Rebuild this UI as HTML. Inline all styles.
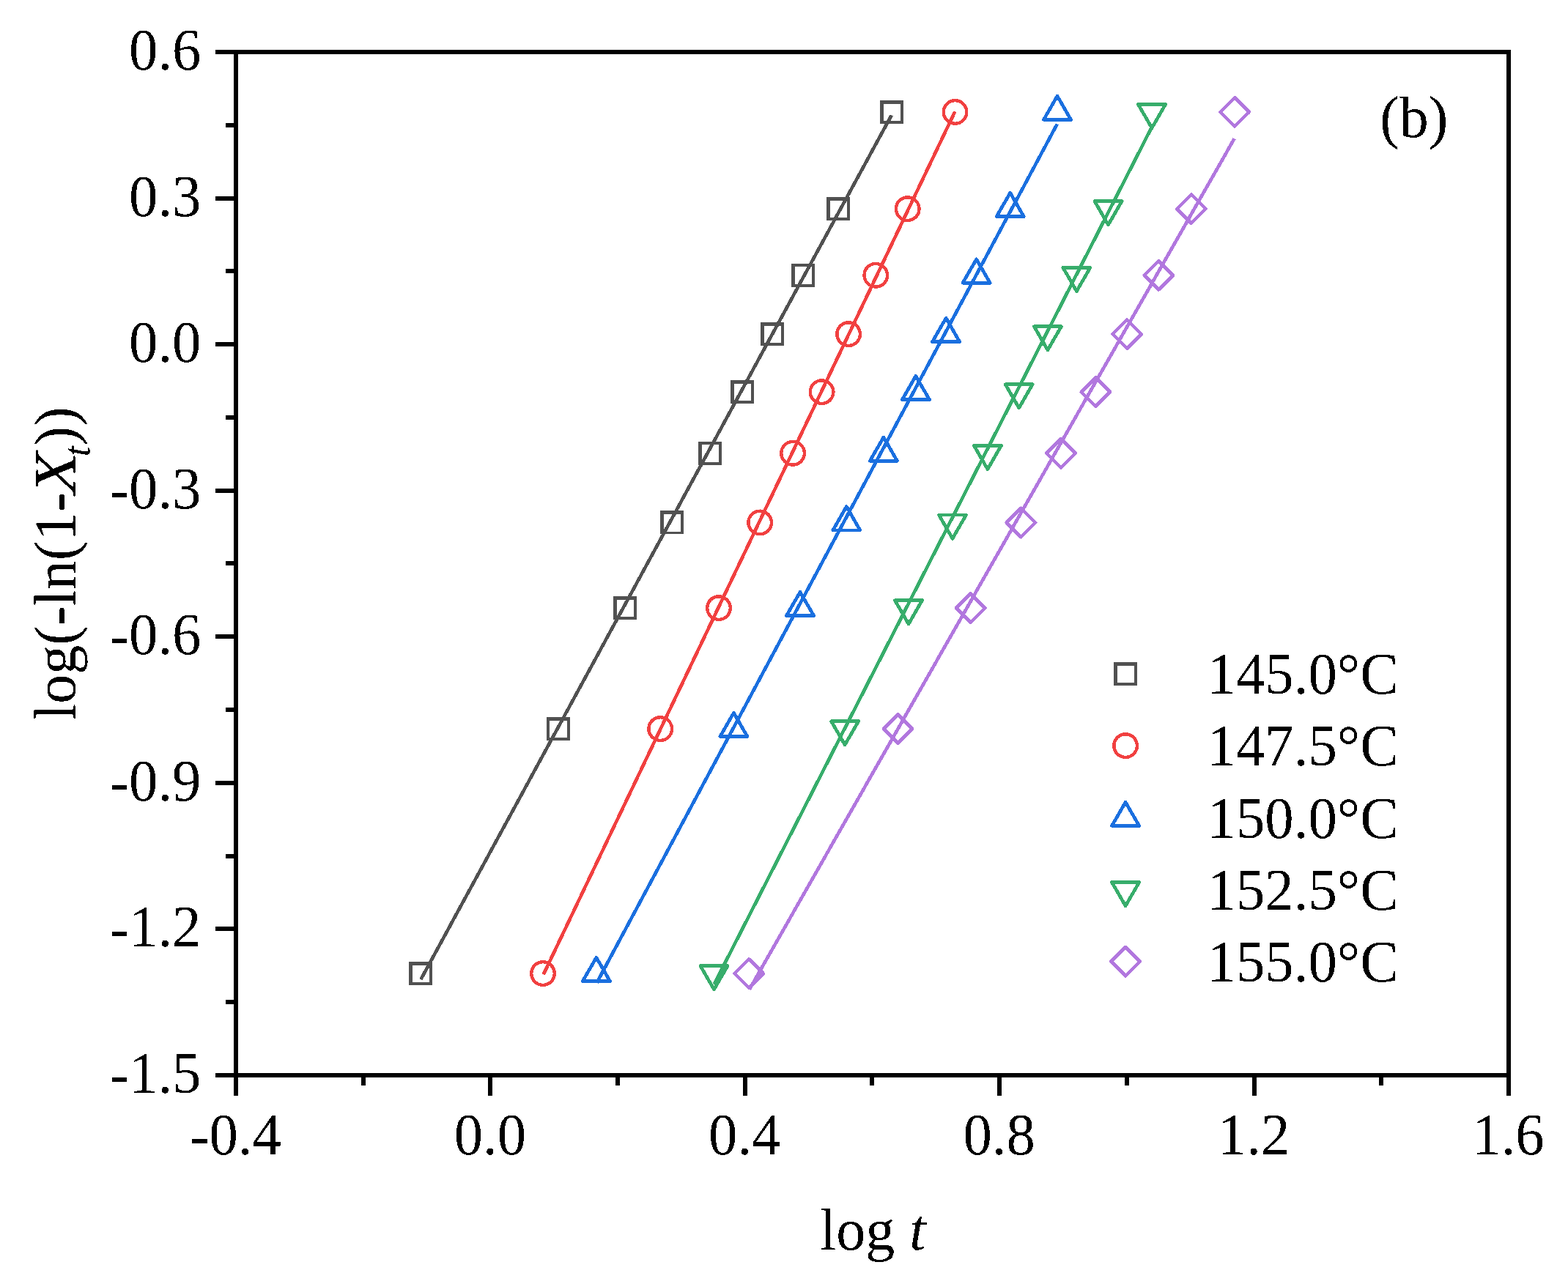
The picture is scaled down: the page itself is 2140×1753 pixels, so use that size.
<!DOCTYPE html>
<html lang="en"><head><meta charset="utf-8"><title>Avrami plot (b)</title>
<style>html,body{margin:0;padding:0;background:#fff;overflow:hidden}body{width:2140px;height:1753px;overflow:hidden}svg{display:block}text{filter:url(#bin);font-family:"Liberation Serif",serif;fill:#000}</style></head><body>
<svg width="2140" height="1753" viewBox="0 0 2140 1753">
<defs><filter id="bin" x="-10%" y="-10%" width="120%" height="120%" color-interpolation-filters="sRGB"><feComponentTransfer><feFuncA type="discrete" tableValues="0 1"/></feComponentTransfer></filter></defs>
<rect width="2140" height="1753" fill="#fff"/>
<g shape-rendering="crispEdges" fill="#000">
<rect x="294" y="68" width="1768" height="6"/>
<rect x="294" y="1465" width="1768" height="6"/>
<rect x="319" y="68" width="6" height="1428"/>
<rect x="2056" y="68" width="6" height="1428"/>
<rect x="294" y="268" width="28" height="6"/>
<rect x="294" y="467" width="28" height="6"/>
<rect x="294" y="667" width="28" height="6"/>
<rect x="294" y="866" width="28" height="6"/>
<rect x="294" y="1066" width="28" height="6"/>
<rect x="294" y="1265" width="28" height="6"/>
<rect x="308" y="168" width="14" height="6"/>
<rect x="308" y="367" width="14" height="6"/>
<rect x="308" y="567" width="14" height="6"/>
<rect x="308" y="766" width="14" height="6"/>
<rect x="308" y="966" width="14" height="6"/>
<rect x="308" y="1166" width="14" height="6"/>
<rect x="308" y="1365" width="14" height="6"/>
<rect x="666" y="1468" width="6" height="28"/>
<rect x="1014" y="1468" width="6" height="28"/>
<rect x="1361" y="1468" width="6" height="28"/>
<rect x="1709" y="1468" width="6" height="28"/>
<rect x="493" y="1468" width="6" height="14"/>
<rect x="840" y="1468" width="6" height="14"/>
<rect x="1187" y="1468" width="6" height="14"/>
<rect x="1535" y="1468" width="6" height="14"/>
<rect x="1882" y="1468" width="6" height="14"/>
</g>
<g font-size="80">
<text id="yt0" transform="translate(274.5,95.00) scale(0.985,1)" text-anchor="end">0.6</text>
<text id="yt1" transform="translate(274.5,294.57) scale(0.985,1)" text-anchor="end">0.3</text>
<text id="yt2" transform="translate(274.5,494.14) scale(0.985,1)" text-anchor="end">0.0</text>
<text id="yt3" transform="translate(274.5,693.71) scale(0.985,1)" text-anchor="end"><tspan dy="1.1">-</tspan><tspan dy="-1.1">0.3</tspan></text>
<text id="yt4" transform="translate(274.5,893.29) scale(0.985,1)" text-anchor="end"><tspan dy="1.1">-</tspan><tspan dy="-1.1">0.6</tspan></text>
<text id="yt5" transform="translate(274.5,1092.86) scale(0.985,1)" text-anchor="end"><tspan dy="1.1">-</tspan><tspan dy="-1.1">0.9</tspan></text>
<text id="yt6" transform="translate(274.5,1292.43) scale(0.985,1)" text-anchor="end"><tspan dy="1.1">-</tspan><tspan dy="-1.1">1.2</tspan></text>
<text id="yt7" transform="translate(274.5,1492.00) scale(0.985,1)" text-anchor="end"><tspan dy="1.1">-</tspan><tspan dy="-1.1">1.5</tspan></text>
<text id="xt0" transform="translate(321.50,1576.2) scale(0.985,1)" text-anchor="middle"><tspan dy="1.1">-</tspan><tspan dy="-1.1">0.4</tspan></text>
<text id="xt1" transform="translate(668.90,1576.2) scale(0.985,1)" text-anchor="middle">0.0</text>
<text id="xt2" transform="translate(1016.30,1576.2) scale(0.985,1)" text-anchor="middle">0.4</text>
<text id="xt3" transform="translate(1363.70,1576.2) scale(0.985,1)" text-anchor="middle">0.8</text>
<text id="xt4" transform="translate(1711.10,1576.2) scale(0.985,1)" text-anchor="middle">1.2</text>
<text id="xt5" transform="translate(2058.50,1576.2) scale(0.985,1)" text-anchor="middle">1.6</text>
</g>
<text id="xtitle" x="1191.2" y="1705.9" font-size="80" text-anchor="middle">log <tspan font-style="italic">t</tspan></text>
<text id="ytitle" transform="translate(102.5,769.3) rotate(-90)" font-size="80" x="-213.83" y="0">log(<tspan dy="1.1">-</tspan><tspan dy="-1.1">ln(1</tspan><tspan dy="1.1">-</tspan><tspan font-style="italic" x="94.32" y="0" textLength="58.17" lengthAdjust="spacingAndGlyphs">X</tspan><tspan font-style="italic" font-size="52" x="146.09" y="20.3">t</tspan><tspan x="160.55" y="0">))</tspan></text>
<text id="blabel" x="1883.2" y="187.3" font-size="80">(b)</text>
<g stroke-linecap="butt" shape-rendering="crispEdges">
<path d="M558.00 1313.06h32v32h-32ZM562.70 1317.76h23.4v23.4h-23.4Z" fill="#515151" fill-rule="evenodd"/>
<path d="M745.60 979.08h32v32h-32ZM750.30 983.78h23.4v23.4h-23.4Z" fill="#515151" fill-rule="evenodd"/>
<path d="M836.90 814.09h32v32h-32ZM841.60 818.79h23.4v23.4h-23.4Z" fill="#515151" fill-rule="evenodd"/>
<path d="M901.00 697.45h32v32h-32ZM905.70 702.15h23.4v23.4h-23.4Z" fill="#515151" fill-rule="evenodd"/>
<path d="M952.90 602.77h32v32h-32ZM957.60 607.47h23.4v23.4h-23.4Z" fill="#515151" fill-rule="evenodd"/>
<path d="M996.90 519.15h32v32h-32ZM1001.60 523.85h23.4v23.4h-23.4Z" fill="#515151" fill-rule="evenodd"/>
<path d="M1037.90 440.10h32v32h-32ZM1042.60 444.80h23.4v23.4h-23.4Z" fill="#515151" fill-rule="evenodd"/>
<path d="M1079.90 359.78h32v32h-32ZM1084.60 364.48h23.4v23.4h-23.4Z" fill="#515151" fill-rule="evenodd"/>
<path d="M1127.90 269.14h32v32h-32ZM1132.60 273.84h23.4v23.4h-23.4Z" fill="#515151" fill-rule="evenodd"/>
<path d="M1201.20 136.95h32v32h-32ZM1205.90 141.65h23.4v23.4h-23.4Z" fill="#515151" fill-rule="evenodd"/>
<circle cx="741.00" cy="1329.06" r="15.8" fill="none" stroke="#F14040" stroke-width="4.4"/>
<circle cx="901.20" cy="995.08" r="15.8" fill="none" stroke="#F14040" stroke-width="4.4"/>
<circle cx="981.00" cy="830.09" r="15.8" fill="none" stroke="#F14040" stroke-width="4.4"/>
<circle cx="1037.20" cy="713.45" r="15.8" fill="none" stroke="#F14040" stroke-width="4.4"/>
<circle cx="1082.10" cy="618.77" r="15.8" fill="none" stroke="#F14040" stroke-width="4.4"/>
<circle cx="1121.60" cy="535.15" r="15.8" fill="none" stroke="#F14040" stroke-width="4.4"/>
<circle cx="1158.10" cy="456.10" r="15.8" fill="none" stroke="#F14040" stroke-width="4.4"/>
<circle cx="1195.30" cy="375.78" r="15.8" fill="none" stroke="#F14040" stroke-width="4.4"/>
<circle cx="1238.70" cy="285.14" r="15.8" fill="none" stroke="#F14040" stroke-width="4.4"/>
<circle cx="1303.50" cy="152.95" r="15.8" fill="none" stroke="#F14040" stroke-width="4.4"/>
<path d="M813.90 1307.23L832.50 1339.53L795.30 1339.53Z" fill="none" stroke="#1A6FDF" stroke-width="4.7" stroke-linejoin="round"/>
<path d="M1001.40 973.25L1020.00 1005.55L982.80 1005.55Z" fill="none" stroke="#1A6FDF" stroke-width="4.7" stroke-linejoin="round"/>
<path d="M1092.00 808.26L1110.60 840.56L1073.40 840.56Z" fill="none" stroke="#1A6FDF" stroke-width="4.7" stroke-linejoin="round"/>
<path d="M1155.30 691.61L1173.90 723.91L1136.70 723.91Z" fill="none" stroke="#1A6FDF" stroke-width="4.7" stroke-linejoin="round"/>
<path d="M1205.90 596.94L1224.50 629.24L1187.30 629.24Z" fill="none" stroke="#1A6FDF" stroke-width="4.7" stroke-linejoin="round"/>
<path d="M1249.90 513.32L1268.50 545.62L1231.30 545.62Z" fill="none" stroke="#1A6FDF" stroke-width="4.7" stroke-linejoin="round"/>
<path d="M1291.10 434.26L1309.70 466.56L1272.50 466.56Z" fill="none" stroke="#1A6FDF" stroke-width="4.7" stroke-linejoin="round"/>
<path d="M1332.60 353.94L1351.20 386.24L1314.00 386.24Z" fill="none" stroke="#1A6FDF" stroke-width="4.7" stroke-linejoin="round"/>
<path d="M1378.70 263.31L1397.30 295.61L1360.10 295.61Z" fill="none" stroke="#1A6FDF" stroke-width="4.7" stroke-linejoin="round"/>
<path d="M1443.00 131.12L1461.60 163.42L1424.40 163.42Z" fill="none" stroke="#1A6FDF" stroke-width="4.7" stroke-linejoin="round"/>
<path d="M974.50 1350.89L993.10 1318.59L955.90 1318.59Z" fill="none" stroke="#37AD6B" stroke-width="4.7" stroke-linejoin="round"/>
<path d="M1153.10 1016.91L1171.70 984.61L1134.50 984.61Z" fill="none" stroke="#37AD6B" stroke-width="4.7" stroke-linejoin="round"/>
<path d="M1240.00 851.93L1258.60 819.63L1221.40 819.63Z" fill="none" stroke="#37AD6B" stroke-width="4.7" stroke-linejoin="round"/>
<path d="M1300.00 735.28L1318.60 702.98L1281.40 702.98Z" fill="none" stroke="#37AD6B" stroke-width="4.7" stroke-linejoin="round"/>
<path d="M1347.90 640.60L1366.50 608.30L1329.30 608.30Z" fill="none" stroke="#37AD6B" stroke-width="4.7" stroke-linejoin="round"/>
<path d="M1390.70 556.98L1409.30 524.68L1372.10 524.68Z" fill="none" stroke="#37AD6B" stroke-width="4.7" stroke-linejoin="round"/>
<path d="M1429.90 477.93L1448.50 445.63L1411.30 445.63Z" fill="none" stroke="#37AD6B" stroke-width="4.7" stroke-linejoin="round"/>
<path d="M1469.40 397.61L1488.00 365.31L1450.80 365.31Z" fill="none" stroke="#37AD6B" stroke-width="4.7" stroke-linejoin="round"/>
<path d="M1512.50 306.98L1531.10 274.68L1493.90 274.68Z" fill="none" stroke="#37AD6B" stroke-width="4.7" stroke-linejoin="round"/>
<path d="M1572.05 174.79L1590.65 142.49L1553.45 142.49Z" fill="none" stroke="#37AD6B" stroke-width="4.7" stroke-linejoin="round"/>
<path d="M1022.10 1309.41L1041.75 1329.06L1022.10 1348.71L1002.45 1329.06Z" fill="none" stroke="#B177DE" stroke-width="4.7" stroke-linejoin="round"/>
<path d="M1225.50 975.43L1245.15 995.08L1225.50 1014.73L1205.85 995.08Z" fill="none" stroke="#B177DE" stroke-width="4.7" stroke-linejoin="round"/>
<path d="M1324.70 810.44L1344.35 830.09L1324.70 849.74L1305.05 830.09Z" fill="none" stroke="#B177DE" stroke-width="4.7" stroke-linejoin="round"/>
<path d="M1393.40 693.80L1413.05 713.45L1393.40 733.10L1373.75 713.45Z" fill="none" stroke="#B177DE" stroke-width="4.7" stroke-linejoin="round"/>
<path d="M1448.00 599.12L1467.65 618.77L1448.00 638.42L1428.35 618.77Z" fill="none" stroke="#B177DE" stroke-width="4.7" stroke-linejoin="round"/>
<path d="M1495.40 515.50L1515.05 535.15L1495.40 554.80L1475.75 535.15Z" fill="none" stroke="#B177DE" stroke-width="4.7" stroke-linejoin="round"/>
<path d="M1538.10 436.45L1557.75 456.10L1538.10 475.75L1518.45 456.10Z" fill="none" stroke="#B177DE" stroke-width="4.7" stroke-linejoin="round"/>
<path d="M1581.30 356.13L1600.95 375.78L1581.30 395.43L1561.65 375.78Z" fill="none" stroke="#B177DE" stroke-width="4.7" stroke-linejoin="round"/>
<path d="M1625.90 265.49L1645.55 285.14L1625.90 304.79L1606.25 285.14Z" fill="none" stroke="#B177DE" stroke-width="4.7" stroke-linejoin="round"/>
<path d="M1685.10 133.30L1704.75 152.95L1685.10 172.60L1665.45 152.95Z" fill="none" stroke="#B177DE" stroke-width="4.7" stroke-linejoin="round"/>
<line x1="574.4" y1="1337.1" x2="1216.8" y2="157.3" stroke="#515151" stroke-width="4.7"/>
<line x1="741.7" y1="1330.4" x2="1303.3" y2="152.4" stroke="#F14040" stroke-width="4.7"/>
<line x1="814.5" y1="1341.7" x2="1442.8" y2="169.4" stroke="#1A6FDF" stroke-width="4.7"/>
<line x1="974.5" y1="1344.0" x2="1572.0" y2="173.5" stroke="#37AD6B" stroke-width="4.7"/>
<line x1="1022.8" y1="1350.8" x2="1684.6" y2="189.3" stroke="#B177DE" stroke-width="4.7"/>
</g>
<g font-size="80">
<path d="M1520.10 904.00h32v32h-32ZM1524.80 908.70h23.4v23.4h-23.4Z" fill="#515151" fill-rule="evenodd" shape-rendering="crispEdges"/>
<text id="leg0" transform="translate(1647.5,946.80) scale(0.985,1)">145.0°C</text>
<circle cx="1536.10" cy="1018.10" r="15.8" fill="none" stroke="#F14040" stroke-width="4.4" shape-rendering="crispEdges"/>
<text id="leg1" transform="translate(1647.5,1045.20) scale(0.985,1)">147.5°C</text>
<path d="M1536.10 1095.17L1554.70 1127.47L1517.50 1127.47Z" fill="none" stroke="#1A6FDF" stroke-width="4.7" stroke-linejoin="round" shape-rendering="crispEdges"/>
<text id="leg2" transform="translate(1647.5,1143.60) scale(0.985,1)">150.0°C</text>
<path d="M1536.10 1236.83L1554.70 1204.53L1517.50 1204.53Z" fill="none" stroke="#37AD6B" stroke-width="4.7" stroke-linejoin="round" shape-rendering="crispEdges"/>
<text id="leg3" transform="translate(1647.5,1242.00) scale(0.985,1)">152.5°C</text>
<path d="M1536.10 1292.95L1555.75 1312.60L1536.10 1332.25L1516.45 1312.60Z" fill="none" stroke="#B177DE" stroke-width="4.7" stroke-linejoin="round" shape-rendering="crispEdges"/>
<text id="leg4" transform="translate(1647.5,1340.40) scale(0.985,1)">155.0°C</text>
</g>
</svg></body></html>
